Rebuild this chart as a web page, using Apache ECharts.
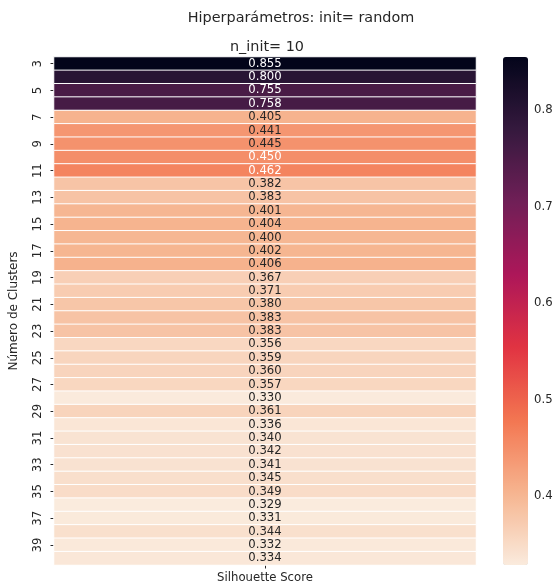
<!DOCTYPE html>
<html>
<head>
<meta charset="utf-8">
<script src="https://cdn.jsdelivr.net/npm/echarts@6/dist/echarts.min.js"></script>
<style>
  html, body { margin: 0; padding: 0; background: #fff; }
  #chart { width: 557px; height: 588px; }
</style>
</head>
<body>
<div id="chart"></div>
<script>
// Number of clusters tried (one row each)
const clusters = ['3','4','5','6','7','8','9','10','11','12','13','14','15','16','17','18','19','20','21',
  '22','23','24','25','26','27','28','29','30','31','32','33','34','35','36','37','38','39','40'];
// Single metric column
const metrics = ['Silhouette Score'];
// Silhouette score per cluster count
const scores = [0.855, 0.800, 0.755, 0.758, 0.405, 0.441, 0.445, 0.450, 0.462, 0.382,
  0.383, 0.401, 0.404, 0.400, 0.402, 0.406, 0.367, 0.371, 0.380, 0.383,
  0.383, 0.356, 0.359, 0.360, 0.357, 0.330, 0.361, 0.336, 0.340, 0.342,
  0.341, 0.345, 0.349, 0.329, 0.331, 0.344, 0.332, 0.334];
// Colour bar tick labels
const barTicks = [0.4, 0.5, 0.6, 0.7, 0.8];

// rocket_r colormap stops (light -> dark)
const rocketR = ['#FAEBDD', '#f6b48f', '#f37651', '#e13342', '#ad1759', '#701f57', '#35193e', '#03051A'];

const vmin = Math.min(...scores);
const vmax = Math.max(...scores);
const font = 'DejaVu Sans';
const ink = '#262626';
const tickSize = 11.7;

const cells = scores.map((v, i) => ({
  value: [0, i, v],
  label: { color: v >= 0.448 ? '#ffffff' : ink }
}));

const chart = echarts.init(document.getElementById('chart'), null, { renderer: 'canvas' });
chart.setOption({
  animation: false,
  backgroundColor: '#ffffff',
  textStyle: { fontFamily: font },
  title: [
    { text: 'Hiperparámetros: init= random', left: 296, top: 6, textAlign: 'center',
      textStyle: { fontFamily: font, fontSize: 14.4, fontWeight: 'normal', color: ink } },
    { text: 'n_init= 10', left: 262, top: 35, textAlign: 'center',
      textStyle: { fontFamily: font, fontSize: 14.4, fontWeight: 'normal', color: ink } }
  ],
  grid: [
    { left: 48, top: 57, width: 428, height: 508 },
    { left: 503, top: 57, width: 25, height: 508 }
  ],
  xAxis: [
    { type: 'category', gridIndex: 0, data: metrics,
      axisLine: { show: false },
      axisTick: { show: true, length: 3.5, alignWithLabel: true, lineStyle: { color: ink } },
      axisLabel: { fontFamily: font, fontSize: tickSize, color: ink, margin: 7 },
      splitLine: { show: false } },
    { type: 'value', gridIndex: 1, show: false, min: 0, max: 1 }
  ],
  yAxis: [
    { type: 'category', gridIndex: 0, data: clusters, inverse: true,
      name: 'Número de Clusters', nameLocation: 'middle', nameRotate: 90, nameGap: 34,
      nameTextStyle: { fontFamily: font, fontSize: 12, color: ink },
      axisLine: { show: false },
      axisTick: { show: true, length: 3.5, interval: 1, alignWithLabel: true, lineStyle: { color: ink } },
      axisLabel: { interval: 1, rotate: 90, fontFamily: font, fontSize: tickSize, color: ink, margin: 10 },
      splitLine: { show: false } },
    { type: 'value', gridIndex: 1, position: 'right', min: vmin, max: vmax,
      axisLine: { show: false },
      splitLine: { show: false },
      axisTick: { show: true, length: 3.5, customValues: barTicks, lineStyle: { color: ink } },
      axisLabel: { customValues: barTicks, formatter: v => v.toFixed(1),
        fontFamily: font, fontSize: tickSize, color: ink, margin: 6 } }
  ],
  visualMap: {
    type: 'continuous', seriesIndex: 0, min: vmin, max: vmax,
    show: true, calculable: false, hoverLink: false,
    left: 503, top: 57, itemWidth: 25, itemHeight: 508, padding: 0,
    text: null, showLabel: false,
    inRange: { color: rocketR }
  },
  series: [{
    type: 'heatmap', xAxisIndex: 0, yAxisIndex: 0,
    data: cells,
    itemStyle: { borderColor: '#ffffff', borderWidth: 1 },
    label: { show: true, fontFamily: font, fontSize: tickSize,
      formatter: p => p.value[2].toFixed(3) },
    emphasis: { disabled: true }
  }]
});
</script>
</body>
</html>
